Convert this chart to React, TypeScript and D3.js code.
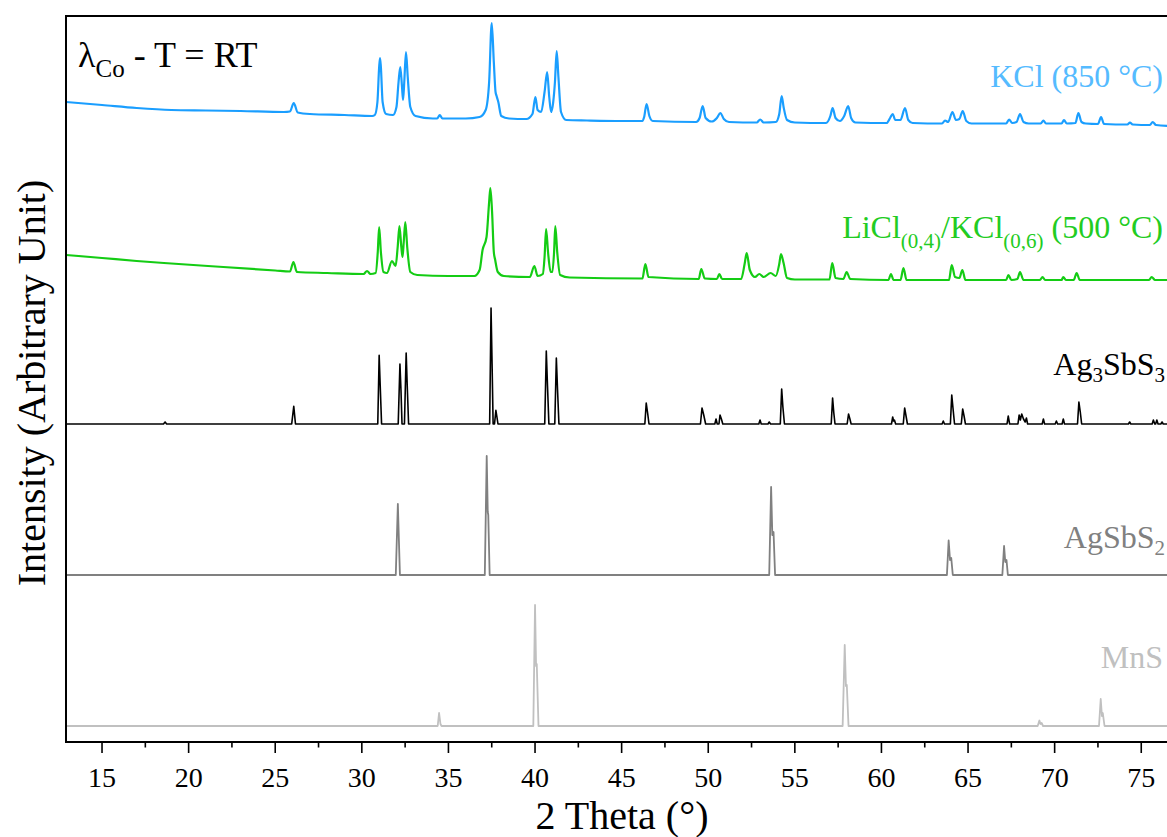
import React from "react";
import * as d3 from "d3";

// ---------- data ----------
// x: 2 Theta (deg); y: intensity in arbitrary units (stacked patterns)
const X_MAJOR_TICKS = [15, 20, 25, 30, 35, 40, 45, 50, 55, 60, 65, 70, 75];
const X_MINOR_TICKS = [17.5, 22.5, 27.5, 32.5, 37.5, 42.5, 47.5, 52.5, 57.5, 62.5, 67.5, 72.5];

// experimental pattern, KCl flux 850 °C (absolute intensity)
const KCL_850: [number, number][] = [
  [12.92, 640], [15, 637], [17, 634], [19, 632], [21, 631.5], [23, 631], [25.5, 630],
  [25.85, 630.5], [26.07, 639], [26.3, 629.5], [27, 628], [29, 627], [30.6, 626],
  [30.75, 627], [30.9, 640], [31.0, 675], [31.05, 684], [31.1, 675], [31.2, 640], [31.4, 628],
  [31.8, 627], [32.0, 635], [32.12, 660], [32.22, 675], [32.32, 655], [32.38, 642],
  [32.45, 660], [32.55, 690], [32.65, 665], [32.8, 635], [33.1, 626], [34.1, 623.5],
  [34.35, 623.5], [34.5, 627], [34.65, 623.5], [36, 623.5], [36.8, 625], [37.15, 632],
  [37.35, 660], [37.5, 719], [37.62, 680], [37.72, 650], [37.78, 646], [37.88, 640],
  [38.05, 626], [38.5, 623.5], [39.5, 623], [39.85, 628], [40.02, 645], [40.15, 632],
  [40.35, 630], [40.55, 650], [40.7, 670], [40.82, 645], [40.93, 630], [41.05, 640],
  [41.15, 660], [41.25, 691], [41.35, 665], [41.5, 630], [41.8, 622], [43, 621.5],
  [45, 621], [46.2, 621], [46.3, 625], [46.44, 638], [46.6, 626], [46.8, 621],
  [49.3, 620], [49.5, 624], [49.68, 636], [49.85, 624], [50.2, 620.5], [50.5, 624],
  [50.7, 629], [50.9, 623], [51.2, 620], [52.8, 619.5], [53.0, 622.5], [53.2, 619.5],
  [53.9, 620], [54.1, 628], [54.24, 646], [54.35, 635], [54.55, 622], [55, 619.5],
  [56.8, 619], [57.05, 626], [57.18, 634], [57.35, 624], [57.6, 621], [57.85, 626],
  [58.08, 636], [58.25, 624], [58.5, 619.5], [60.3, 619], [60.5, 624], [60.65, 628],
  [60.8, 622], [61.1, 622], [61.36, 634], [61.55, 622], [61.8, 619], [63.5, 618.5],
  [63.67, 621.5], [63.85, 620], [64.1, 630], [64.3, 622], [64.5, 623], [64.69, 631],
  [64.9, 621], [65.2, 618.5], [67.2, 618.5], [67.37, 622.5], [67.55, 619], [67.8, 620],
  [68.0, 628], [68.2, 620], [68.5, 618.5], [69.2, 618.5], [69.35, 621.5], [69.5, 618.5],
  [70.4, 618.5], [70.54, 622], [70.7, 618.5], [71.2, 619], [71.37, 629], [71.55, 620],
  [71.8, 618.5], [72.5, 618], [72.68, 625], [72.85, 618], [74.2, 617.5], [74.35, 619.5],
  [74.5, 617.5], [75.5, 617], [75.66, 620], [75.85, 617], [76.7, 616],
];

// experimental pattern, LiCl(0.4)/KCl(0.6) flux 500 °C (absolute intensity)
const LICL_KCL_500: [number, number][] = [
  [12.92, 487], [15, 484], [17, 481], [19, 478.5], [22, 475], [25, 471.5], [25.85, 470.5],
  [26.05, 480], [26.25, 470], [28, 469], [30.1, 468], [30.3, 471], [30.5, 468], [30.8, 469],
  [30.92, 490], [31.0, 515], [31.1, 490], [31.25, 470], [31.45, 469], [31.74, 481],
  [31.95, 476], [32.07, 495], [32.17, 516], [32.28, 495], [32.35, 485], [32.42, 500],
  [32.51, 520], [32.62, 495], [32.8, 470], [33.2, 467], [35, 466], [36.5, 466], [36.8, 472],
  [36.97, 492], [37.2, 505], [37.35, 540], [37.42, 554], [37.52, 530], [37.62, 490],
  [37.7, 482], [37.85, 470], [38.2, 466], [39.7, 465], [39.96, 476], [40.15, 466],
  [40.45, 468], [40.55, 485], [40.64, 513], [40.75, 490], [40.9, 470], [41.0, 470],
  [41.1, 490], [41.17, 516], [41.28, 490], [41.45, 467], [42, 464.5], [46.2, 463.5],
  [46.37, 478], [46.55, 465], [49.45, 463], [49.6, 473], [49.8, 463.5], [50.5, 463],
  [50.64, 468], [50.8, 463], [51.9, 463], [52.1, 478], [52.22, 489], [52.4, 472],
  [52.7, 465], [52.95, 468], [53.2, 465], [53.6, 469], [53.9, 466], [54.1, 478],
  [54.2, 488], [54.35, 479], [54.55, 464], [55, 462.5], [57.0, 462.5], [57.16, 479],
  [57.35, 464], [57.8, 463], [57.99, 470], [58.2, 463], [60.4, 462], [60.55, 468],
  [60.7, 462], [61.1, 462], [61.27, 474], [61.45, 462], [63.9, 462], [64.06, 477],
  [64.25, 465], [64.5, 464], [64.67, 472], [64.85, 462], [67.2, 462], [67.33, 467],
  [67.5, 462], [67.85, 463], [68.0, 470], [68.2, 462], [69.15, 462], [69.3, 465],
  [69.45, 462], [70.4, 462], [70.5, 465], [70.65, 462], [71.1, 462], [71.27, 469],
  [71.45, 462], [75.45, 462], [75.6, 465], [75.8, 462], [76.7, 462],
];

// reference pattern Ag3SbS3 (intensity above its own baseline)
const AG3SBS3_OFFSET = 318;
const AG3SBS3: [number, number][] = [
  [12.92, 0], [18.55, 0], [18.64, 2], [18.73, 0], [25.95, 0], [26.07, 17.6], [26.17, 0],
  [30.92, 0], [31.0, 68.6], [31.06, 39], [31.14, 0], [32.1, 0], [32.2, 60], [32.26, 34],
  [32.32, 0], [32.46, 0], [32.56, 71], [32.62, 39], [32.7, 0], [37.38, 0], [37.46, 116],
  [37.52, 60], [37.58, 0], [37.66, 0], [37.74, 13.6], [37.8, 7], [37.86, 0], [40.56, 0],
  [40.65, 73], [40.72, 38], [40.8, 0], [41.14, 0], [41.23, 66], [41.3, 34], [41.38, 0],
  [46.34, 0], [46.42, 21], [46.5, 11], [46.58, 0], [49.55, 0], [49.64, 16], [49.74, 9],
  [49.85, 0], [50.38, 0], [50.45, 5], [50.52, 0], [50.62, 0], [50.68, 9], [50.76, 5],
  [50.84, 0], [52.92, 0], [52.99, 4], [53.06, 0], [53.45, 0], [53.52, 2], [53.6, 0],
  [54.16, 0], [54.24, 35], [54.31, 17], [54.4, 0], [57.1, 0], [57.18, 26], [57.25, 11],
  [57.32, 0], [58.02, 0], [58.1, 10], [58.18, 5], [58.25, 0], [60.58, 0], [60.65, 7],
  [60.7, 3], [60.75, 4], [60.82, 0], [61.26, 0], [61.34, 16], [61.42, 8], [61.5, 0],
  [63.5, 0], [63.57, 3], [63.64, 0], [63.98, 0], [64.06, 29], [64.13, 16], [64.22, 0],
  [64.61, 0], [64.69, 15], [64.77, 8], [64.85, 0], [67.25, 0], [67.32, 8], [67.4, 0],
  [67.88, 0], [67.95, 9], [68.02, 4], [68.1, 10], [68.2, 5], [68.3, 2], [68.37, 6],
  [68.44, 0], [69.28, 0], [69.35, 5], [69.42, 0], [70.03, 0], [70.1, 3], [70.17, 0],
  [70.43, 0], [70.5, 5], [70.57, 0], [71.32, 0], [71.4, 22], [71.48, 12], [71.56, 0],
  [74.26, 0], [74.33, 2], [74.4, 0], [75.63, 0], [75.7, 4], [75.78, 0], [75.83, 0],
  [75.9, 4], [75.97, 0], [76.13, 0], [76.2, 2], [76.27, 0], [76.7, 0],
];

// reference pattern AgSbS2
const AGSBS2_OFFSET = 167;
const AGSBS2: [number, number][] = [
  [12.92, 0], [31.96, 0], [32.08, 71], [32.14, 35], [32.2, 0], [37.1, 0], [37.21, 119],
  [37.27, 63], [37.3, 60], [37.38, 0], [53.52, 0], [53.63, 88], [53.7, 40], [53.77, 43],
  [53.86, 0], [63.78, 0], [63.88, 34.5], [63.96, 15], [64.03, 17], [64.12, 0], [66.98, 0],
  [67.08, 29], [67.15, 13], [67.22, 15], [67.3, 0], [76.7, 0],
];

// reference pattern MnS
const MNS_OFFSET = 16;
const MNS: [number, number][] = [
  [12.92, 0], [34.38, 0], [34.46, 13], [34.54, 2], [34.6, 0], [39.9, 0], [40.0, 121],
  [40.06, 60], [40.1, 62], [40.2, 0], [57.76, 0], [57.88, 81], [57.95, 40], [58.0, 41],
  [58.1, 0], [69.02, 0], [69.12, 5.5], [69.18, 2], [69.25, 3], [69.33, 0], [72.56, 0],
  [72.66, 27], [72.73, 10], [72.78, 13], [72.88, 0], [76.7, 0],
];

// ---------- layout ----------
const W = 1167;
const H = 837;
const M = { left: 66, top: 16, right: 1170, bottom: 742 };
const FONT = "Liberation Serif";

export default function App() {
  const x = d3.scaleLinear().domain([12.92, 76.66]).range([M.left, M.right]);
  const y = d3.scaleLinear().domain([0, 726]).range([M.bottom, M.top]);

  const mk = (offset: number, smooth: boolean) =>
    d3
      .line<[number, number]>()
      .x((d) => x(d[0]))
      .y((d) => y(d[1] + offset))
      .curve(smooth ? d3.curveMonotoneX : d3.curveLinear);

  const series = [
    { data: KCL_850, offset: 0, color: "#1a9eff", width: 2.2, smooth: true },
    { data: LICL_KCL_500, offset: 0, color: "#14cc14", width: 2.2, smooth: true },
    { data: AG3SBS3, offset: AG3SBS3_OFFSET, color: "#000000", width: 1.6, smooth: false },
    { data: AGSBS2, offset: AGSBS2_OFFSET, color: "#808080", width: 1.8, smooth: false },
    { data: MNS, offset: MNS_OFFSET, color: "#c0c0c0", width: 1.8, smooth: false },
  ];

  return (
    <div style={{ position: "absolute", left: 0, top: 0, width: W, height: H, overflow: "hidden" }}>
      <svg width={W} height={H} style={{ display: "block", background: "#fff" }}>
        <defs>
          <clipPath id="plotclip">
            <rect x={M.left} y={M.top} width={M.right - M.left} height={M.bottom - M.top} />
          </clipPath>
        </defs>

        <g clipPath="url(#plotclip)">
          {series.map((s, i) => (
            <path
              key={i}
              d={mk(s.offset, s.smooth)(s.data) || ""}
              fill="none"
              stroke={s.color}
              strokeWidth={s.width}
              strokeLinejoin="round"
            />
          ))}
        </g>

        {/* frame */}
        <rect
          x={M.left}
          y={M.top}
          width={M.right - M.left}
          height={M.bottom - M.top}
          fill="none"
          stroke="#000"
          strokeWidth={2}
        />

        {/* x ticks */}
        {X_MAJOR_TICKS.map((t) => (
          <g key={"M" + t}>
            <line x1={x(t)} x2={x(t)} y1={M.bottom} y2={M.bottom + 11} stroke="#000" strokeWidth={1.6} />
            <text x={x(t)} y={787} textAnchor="middle" fontSize={28} fill="#000" fontFamily={FONT}>
              {t}
            </text>
          </g>
        ))}
        {X_MINOR_TICKS.map((t) => (
          <line key={"m" + t} x1={x(t)} x2={x(t)} y1={M.bottom} y2={M.bottom + 5.5} stroke="#000" strokeWidth={1.6} />
        ))}

        {/* axis titles */}
        <text x={622} y={829} textAnchor="middle" fontSize={40} fill="#000" fontFamily={FONT}>
          2 Theta (°)
        </text>
        <text
          transform={`translate(45, 383) rotate(-90)`}
          textAnchor="middle"
          fontSize={40}
          fill="#000"
          fontFamily={FONT}
        >
          Intensity (Arbitrary Unit)
        </text>

        {/* annotation */}
        <text x={78} y={67} fontSize={36} fill="#000" fontFamily={FONT}>
          λ
          <tspan fontSize={25} dy={10}>Co</tspan>
          <tspan dy={-10}> - T = RT</tspan>
        </text>

        {/* series labels */}
        <text x={1163} y={87} textAnchor="end" fontSize={32} fill="#55bbff" fontFamily={FONT}>
          KCl (850 °C)
        </text>
        <text x={1163} y={238} textAnchor="end" fontSize={32} fill="#22cc22" fontFamily={FONT}>
          LiCl
          <tspan fontSize={21} dy={10}>(0,4)</tspan>
          <tspan dy={-10}>/KCl</tspan>
          <tspan fontSize={21} dy={10}>(0,6)</tspan>
          <tspan dy={-10}> (500 °C)</tspan>
        </text>
        <text x={1165} y={375} textAnchor="end" fontSize={32} fill="#000" fontFamily={FONT}>
          Ag
          <tspan fontSize={21} dy={7}>3</tspan>
          <tspan dy={-7}>SbS</tspan>
          <tspan fontSize={21} dy={7}>3</tspan>
        </text>
        <text x={1165} y={548} textAnchor="end" fontSize={32} fill="#808080" fontFamily={FONT}>
          AgSbS
          <tspan fontSize={21} dy={7}>2</tspan>
        </text>
        <text x={1163} y={668} textAnchor="end" fontSize={32} fill="#c0c0c0" fontFamily={FONT}>
          MnS
        </text>
      </svg>
    </div>
  );
}
